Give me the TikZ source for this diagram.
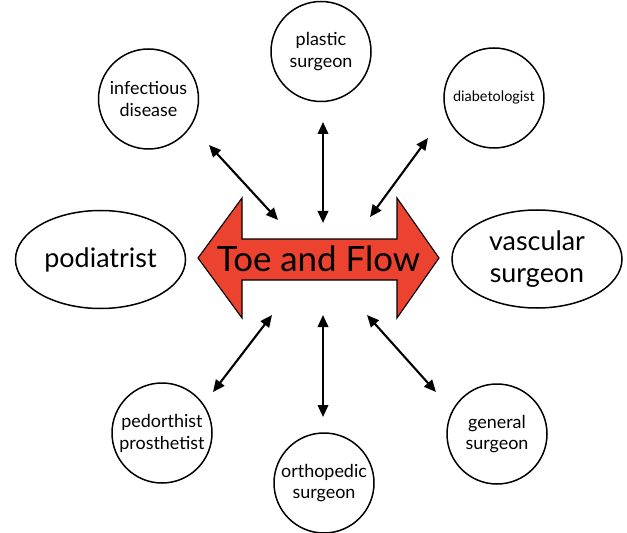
\documentclass[tikz,border=0pt]{standalone}
\usepackage{fontspec}
\setmainfont{Lato}
\usetikzlibrary{arrows.meta,shapes.geometric}
\definecolor{flowred}{RGB}{236,66,48}
\begin{document}
\begin{tikzpicture}[x=1bp,y=-1bp,
  circ/.style={draw, line width=1.5bp, circle, minimum size=100bp, inner sep=0pt, align=center, font=\fontsize{18}{22}\selectfont},
  ell/.style={draw, line width=1.5bp, ellipse, minimum width=170bp, minimum height=98bp, inner sep=0pt, align=center, font=\fontsize{27}{33}\selectfont},
  link/.style={line width=2.1bp, {Triangle[length=12bp,width=10.5bp]}-{Triangle[length=12bp,width=10.5bp]}},
  bigarrow/.style={draw, fill=flowred, line width=1.1bp, line join=miter}]
\useasboundingbox (0,0) rectangle (627,533);

% big red double arrow
\draw[bigarrow] (198,258) -- (242,198) -- (242,239) -- (397,239) -- (397,198) -- (439,258)
  -- (397,318) -- (397,280) -- (242,280) -- (242,318) -- cycle;
\node[font=\fontsize{35}{40}\selectfont] (flow) at (318.5,259) {Toe and Flow};

% side ellipses
\node[ell] (pod) at (100.5,259.5) {podiatrist};
\node[ell] (vasc) at (537,259) {vascular\\surgeon};

% circles
\node[circ] (inf) at (148.5,99) {infectious\\disease};
\node[circ] (plast) at (321,51.5) {plastic\\surgeon};
\node[circ, font=\fontsize{14.5}{18}\selectfont] (diab) at (494,98) {diabetologist};
\node[circ] (ped) at (162,433) {pedorthist\\prosthetist};
\node[circ] (ortho) at (324,483) {orthopedic\\surgeon};
\node[circ] (gen) at (497,434) {general\\surgeon};

% connector end points
\coordinate (a1) at (209,145); \coordinate (a2) at (278,220);
\coordinate (b1) at (323,122); \coordinate (b2) at (323,223);
\coordinate (c1) at (428,138); \coordinate (c2) at (370,217);
\coordinate (d1) at (272,315); \coordinate (d2) at (213,392);
\coordinate (e1) at (323,315); \coordinate (e2) at (323,417);
\coordinate (f1) at (367,315); \coordinate (f2) at (436,392);

\draw[link] (a1) -- (a2);
\draw[link] (b1) -- (b2);
\draw[link] (c1) -- (c2);
\draw[link] (d1) -- (d2);
\draw[link] (e1) -- (e2);
\draw[link] (f1) -- (f2);
\end{tikzpicture}
\end{document}
